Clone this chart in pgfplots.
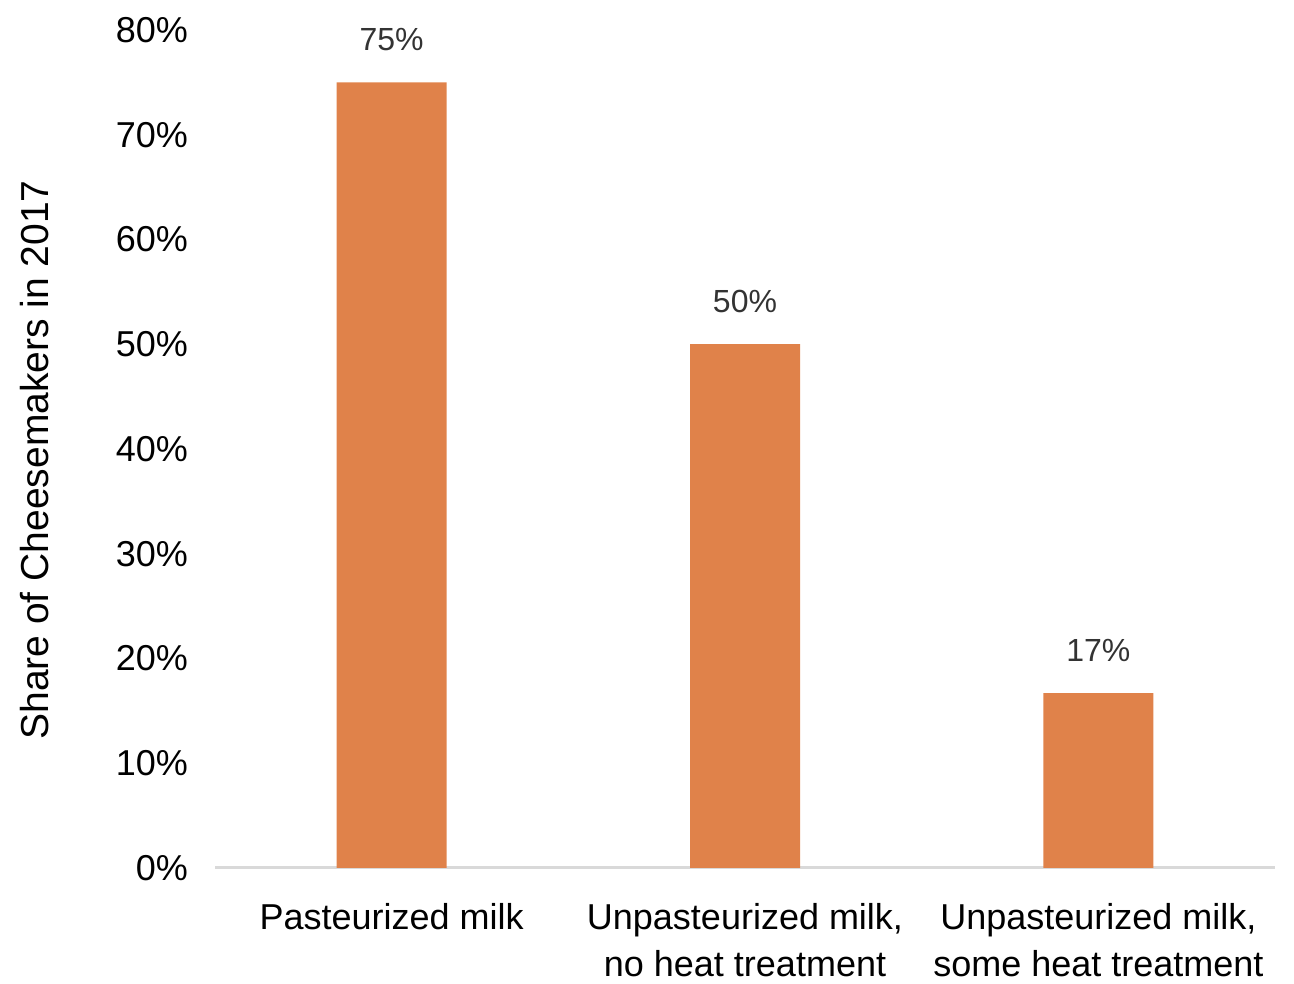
\documentclass[border=0pt]{standalone}
\usepackage{fontspec}
\setmainfont{Liberation Sans}
\usepackage{pgfplots}
\pgfplotsset{compat=1.18}
\definecolor{barorange}{HTML}{E0824A}
\definecolor{basegray}{HTML}{D9D9D9}
\definecolor{labelgray}{HTML}{333333}
\begin{document}
\begin{tikzpicture}
\begin{axis}[
  name=ax,
  scale only axis,
  width=530pt, height=419pt,
  xmin=-0.5, xmax=2.5,
  ymin=0, ymax=80,
  ytick={0,10,...,80},
  yticklabel={\pgfmathprintnumber{\tick}\%},
  /pgf/number format/assume math mode=true,
  xtick={0,1,2},
  xticklabels={Pasteurized milk,{Unpasteurized milk,\\no heat treatment},{Unpasteurized milk,\\some heat treatment}},
  xticklabel style={align=center, font=\fontsize{18}{23.5}\selectfont, yshift=-14pt},
  yticklabel style={font=\fontsize{18}{22}\selectfont, xshift=-10pt},
  major tick length=0pt,
  axis line style={draw=none},
  axis x line*=bottom,
  axis y line*=left,
  ylabel={Share of Cheesemakers in 2017},
  every axis y label/.style={at={(axis description cs:-0.17,0.487)}, rotate=90, anchor=center, font=\fontsize{19.5}{23.5}\selectfont},
  clip=false,
]
\draw[basegray, line width=1.5pt] (axis cs:-0.5,0) -- (axis cs:2.5,0);
\addplot[ybar, bar width=55pt, fill=barorange, draw=none,
  nodes near coords={\pgfmathprintnumber[fixed,precision=0]{\pgfplotspointmeta}\%},
  every node near coord/.append style={font=\fontsize{16}{20}\selectfont, text=labelgray, yshift=12pt}]
  coordinates {(0,75) (1,50) (2,16.7)};
\end{axis}
\path (ax.south east) ++(9.5pt,0);
\path (ax.south west) ++(-107.5pt,-57.5pt);
\path (ax.north west) ++(0,15pt);
\end{tikzpicture}
\end{document}
